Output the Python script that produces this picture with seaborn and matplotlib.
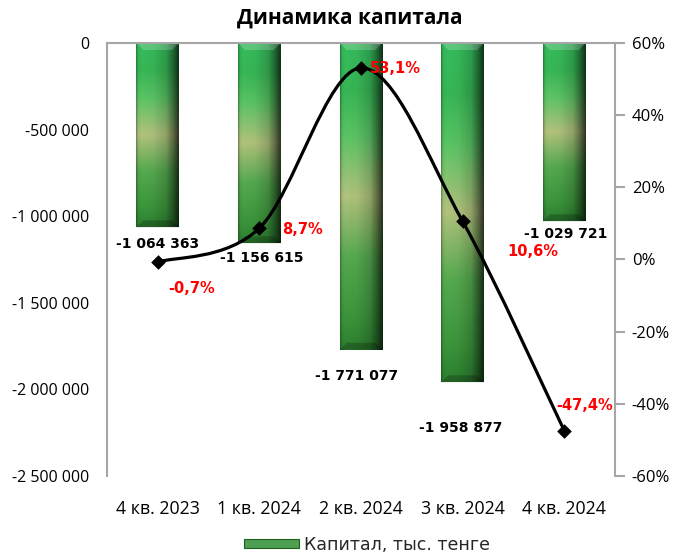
import numpy as np
import pandas as pd
import matplotlib
matplotlib.use("Agg")
import matplotlib.pyplot as plt
import seaborn as sns
from matplotlib.path import Path
from matplotlib.patches import PathPatch, Polygon, Patch
from matplotlib.ticker import FuncFormatter, MultipleLocator

# ---------------- data ----------------
quarters = ["4 кв. 2023", "1 кв. 2024", "2 кв. 2024", "3 кв. 2024", "4 кв. 2024"]
capital = [-1064363, -1156615, -1771077, -1958877, -1029721]
growth_pct = [-0.7, 8.7, 53.1, 10.6, -47.4]
title = "Динамика капитала"
series_name = "Капитал, тыс. тенге"

# ---------------- layout / style constants ----------------
value_label_offsets = [(0, -17), (2, -15), (-4, -26), (-2, -46), (1, -13)]   # pixels
pct_label_offsets = [(34, -26), (43, -1), (34, -1), (70, -30), (20, 25)]      # pixels
GREY = "#a6a6a6"

sns.set_theme(style="white")
plt.rcParams["font.family"] = ["Open Sans", "DejaVu Sans"]

fig = plt.figure(figsize=(6.8, 5.58), dpi=100)
ax = fig.add_axes([107 / 680, 1 - 476 / 558, 508 / 680, 433 / 558])

df = pd.DataFrame({"quarter": quarters, "capital": capital})
sns.barplot(data=df, x="quarter", y="capital", ax=ax, width=0.42,
            color="#3a9a45", saturation=1, edgecolor="none", linewidth=0)

ax.set_xlim(-0.5, len(quarters) - 0.5)
ax.set_ylim(-2500000, 0)


def interp_stops(stops, n):
    pos = np.array([s[0] for s in stops])
    cols = np.array([s[1] for s in stops], float)
    t = np.linspace(0, 1, n)
    return np.stack([np.interp(t, pos, cols[:, k]) for k in range(cols.shape[1])], axis=-1)


vert = interp_stops([(0, (50, 178, 88)), (0.15, (52, 172, 80)), (0.3, (85, 185, 95)),
                     (0.5, (168, 184, 118)), (0.7, (80, 160, 75)), (0.9, (55, 140, 55)),
                     (1, (42, 120, 45))], 300)
hor = interp_stops([(0, (0.7,)), (0.04, (1.0,)), (0.12, (1.06,)), (0.4, (1.03,)),
                    (0.7, (0.88,)), (0.87, (0.58,)), (1, (0.28,))], 80)[:, 0]
img = np.clip(vert[:, None, :] * hor[None, :, None], 0, 255) / 255.0

dy_px = 2500000 / 433.0
dx_px = 1 / 101.6
for p in list(ax.patches):
    x0 = p.get_x()
    w = p.get_width()
    y0 = p.get_y()
    h = p.get_height()
    im = ax.imshow(img, extent=(x0, x0 + w, y0 + h, y0), origin="upper",
                   aspect="auto", interpolation="bilinear", zorder=2)
    im.set_clip_path(p)
    x1 = x0 + w
    yb = y0 + h
    ax.add_patch(Polygon([(x0, y0), (x1, y0), (x1 - 7 * dx_px, y0 - 7 * dy_px),
                          (x0 + 7 * dx_px, y0 - 7 * dy_px)], closed=True,
                         facecolor="white", alpha=0.2, edgecolor="none", zorder=2.5))
    ax.add_patch(Polygon([(x0, yb), (x1, yb), (x1 - 7 * dx_px, yb + 7 * dy_px),
                          (x0 + 7 * dx_px, yb + 7 * dy_px)], closed=True,
                         facecolor="black", alpha=0.22, edgecolor="none", zorder=2.5))

ax.set_xlim(-0.5, len(quarters) - 0.5)
ax.set_ylim(-2500000, 0)
ax.yaxis.set_major_locator(MultipleLocator(500000))
ax.yaxis.set_major_formatter(FuncFormatter(lambda v, _: f"{v:,.0f}".replace(",", " ")))
ax.set_xlabel("")
ax.set_ylabel("")
ax.tick_params(axis="y", length=0, pad=13, labelsize=11.5, labelcolor="black")
ax.tick_params(axis="x", length=0, pad=17, labelsize=12.8, labelcolor="black")
for s in ["right", "bottom"]:
    ax.spines[s].set_visible(False)
for s in ["left", "top"]:
    ax.spines[s].set_color(GREY)
    ax.spines[s].set_linewidth(1.5)

for i, v in enumerate(capital):
    dx, dy = value_label_offsets[i]
    ax.annotate(f"{v:,.0f}".replace(",", " "), xy=(i, v), xytext=(dx, dy),
                textcoords="offset pixels", ha="center", va="center",
                fontsize=10, fontweight="bold", family="DejaVu Sans", color="black", zorder=5)

# ---------------- secondary axis: growth line ----------------
ax2 = ax.twinx()
ax2.set_ylim(-60, 60)
ax2.yaxis.set_major_locator(MultipleLocator(20))
ax2.yaxis.set_major_formatter(FuncFormatter(lambda v, _: f"{v:.0f}%"))

xs = np.arange(len(growth_pct), dtype=float)
P = np.column_stack([xs, np.array(growth_pct, float)])
verts = [P[0]]
codes = [Path.MOVETO]
for i in range(len(P) - 1):
    p0 = P[i - 1] if i > 0 else P[i]
    p3 = P[i + 2] if i + 2 < len(P) else P[i + 1]
    c1 = P[i] + (P[i + 1] - p0) / 6.0
    c2 = P[i + 1] - (p3 - P[i]) / 6.0
    verts += [c1, c2, P[i + 1]]
    codes += [Path.CURVE4] * 3
ax2.add_patch(PathPatch(Path(verts, codes), fill=False, lw=2.3, edgecolor="black",
                        capstyle="round", zorder=3))
sns.scatterplot(x=xs, y=growth_pct, ax=ax2, marker="D", s=48, color="black",
                edgecolor="black", linewidth=0.5, zorder=4, legend=False)
ax2.set_xlim(-0.5, len(quarters) - 0.5)
ax2.set_ylim(-60, 60)
ax2.set_xlabel("")
ax2.set_ylabel("")

for i, v in enumerate(growth_pct):
    dx, dy = pct_label_offsets[i]
    ax2.annotate(f"{v:.1f}%".replace(".", ","), xy=(i, v), xytext=(dx, dy),
                 textcoords="offset pixels", ha="center", va="center",
                 fontsize=10.5, fontweight="bold", family="DejaVu Sans", color="#ff0000", zorder=6)

ax2.tick_params(axis="y", direction="out", length=7, width=1.5, color=GREY, pad=5,
                labelsize=12, labelcolor="black", right=True)
for s in ["left", "top", "bottom"]:
    ax2.spines[s].set_visible(False)
ax2.spines["right"].set_color(GREY)
ax2.spines["right"].set_linewidth(1.5)

fig.text(350 / 680, 1 - 18 / 558, title, ha="center", va="center",
         fontsize=15, fontweight="bold", color="black")

handle = Patch(facecolor="#4f9f50", edgecolor="#1f5f1f", linewidth=0.8, label=series_name)
fig.legend(handles=[handle], loc="center", bbox_to_anchor=(367 / 680, 1 - 545 / 558),
           frameon=False, handlelength=3.2, handleheight=0.4, handletextpad=0.3,
           prop={"family": "DejaVu Sans", "size": 12.5})

fig.savefig("out.png", dpi=100)
